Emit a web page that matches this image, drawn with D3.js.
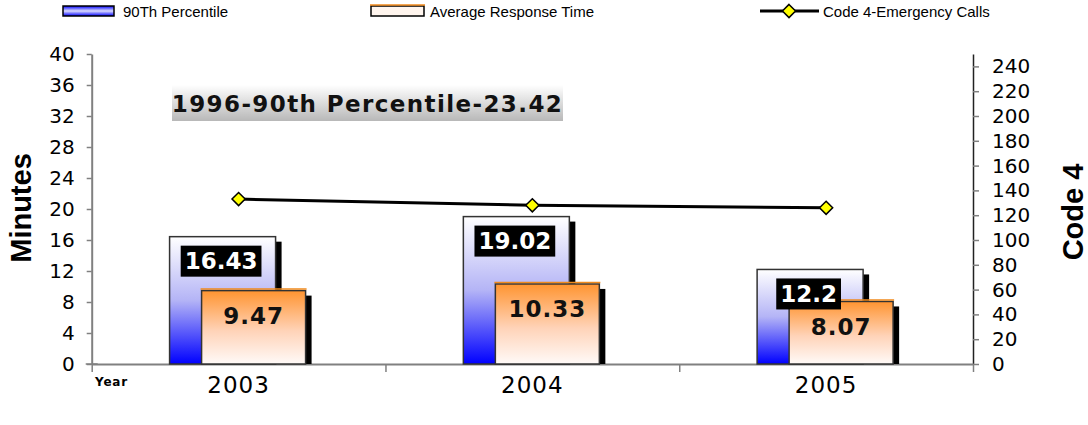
<!DOCTYPE html>
<html>
<head>
<meta charset="utf-8">
<script src="https://cdn.jsdelivr.net/npm/d3@7"></script>
<style>
  body { margin: 0; background: #fff; }
  svg { display: block; }
</style>
</head>
<body>
<div id="chart"></div>
<script>
// data
var years = ['2003', '2004', '2005']
var pct90 = [16.43, 19.02, 12.2]
var avgResp = [9.47, 10.33, 8.07]
var code4 = [133, 128, 126]
var leftTicks = [0, 4, 8, 12, 16, 20, 24, 28, 32, 36, 40]
var rightTicks = [0, 20, 40, 60, 80, 100, 120, 140, 160, 180, 200, 220, 240]
var noteText = '1996-90th Percentile-23.42'

var width = 1088
var height = 425
var plot = { left: 91.7, right: 973, top: 54, bottom: 364 }

var svg = d3.select('#chart').append('svg')
  .attr('width', width)
  .attr('height', height)

var defs = svg.append('defs')

var blueGrad = defs.append('linearGradient').attr('id', 'blueGrad')
  .attr('x1', 0).attr('y1', 0).attr('x2', 0).attr('y2', 1)
blueGrad.append('stop').attr('offset', '0%').attr('stop-color', '#ffffff')
blueGrad.append('stop').attr('offset', '50%').attr('stop-color', '#b4b4f6')
blueGrad.append('stop').attr('offset', '100%').attr('stop-color', '#0000ff')

var orangeGrad = defs.append('linearGradient').attr('id', 'orangeGrad')
  .attr('x1', 0).attr('y1', 0).attr('x2', 0).attr('y2', 1)
orangeGrad.append('stop').attr('offset', '0%').attr('stop-color', '#ff9430')
orangeGrad.append('stop').attr('offset', '55%').attr('stop-color', '#ffd3b8')
orangeGrad.append('stop').attr('offset', '100%').attr('stop-color', '#fffaf8')

var greyGrad = defs.append('linearGradient').attr('id', 'greyGrad')
  .attr('x1', 0).attr('y1', 0).attr('x2', 0).attr('y2', 1)
greyGrad.append('stop').attr('offset', '0%').attr('stop-color', '#ffffff')
greyGrad.append('stop').attr('offset', '100%').attr('stop-color', '#b8b8b8')

var legBlue = defs.append('linearGradient').attr('id', 'legBlue')
  .attr('x1', 0).attr('y1', 0).attr('x2', 0).attr('y2', 1)
legBlue.append('stop').attr('offset', '0%').attr('stop-color', '#0000ff')
legBlue.append('stop').attr('offset', '50%').attr('stop-color', '#ddddff')
legBlue.append('stop').attr('offset', '100%').attr('stop-color', '#0000ff')

// scales
var xScale = d3.scaleBand().domain(years).range([plot.left, plot.right])
var bw = xScale.bandwidth()
var yLeft = d3.scaleLinear().domain([0, 40]).range([plot.bottom, plot.top])
var yRight = d3.scaleLinear().domain([0, 250]).range([plot.bottom, plot.top])
var xEdges = d3.scaleLinear().domain([0, years.length]).range([plot.left, plot.right])

function center(i) { return xScale(years[i]) + bw / 2 }

// axes
var leftAxis = d3.axisLeft(yLeft).tickValues(leftTicks).tickSize(5).tickPadding(12).tickSizeOuter(0)
var gL = svg.append('g').attr('transform', 'translate(' + plot.left + ',0)').call(leftAxis)
gL.select('.domain').attr('stroke', '#808080').attr('stroke-width', 2)
gL.selectAll('.tick line').attr('stroke', '#808080').attr('stroke-width', 1.5)
gL.selectAll('.tick text').attr('font-family', 'DejaVu Sans').attr('font-size', 20).attr('fill', '#000')

var rightAxis = d3.axisRight(yRight).tickValues(rightTicks).tickSize(6).tickPadding(13).tickSizeOuter(0)
var gR = svg.append('g').attr('transform', 'translate(' + plot.right + ',0)').call(rightAxis)
gR.select('.domain').attr('stroke', '#222').attr('stroke-width', 1.5)
gR.selectAll('.tick line').attr('stroke', '#808080').attr('stroke-width', 1.5)
gR.selectAll('.tick text').attr('font-family', 'DejaVu Sans').attr('font-size', 20).attr('fill', '#000')

var bottomAxis = d3.axisBottom(xEdges).tickValues(d3.range(years.length + 1)).tickFormat('').tickSize(8).tickSizeOuter(0)
var gB = svg.append('g').attr('transform', 'translate(0,' + plot.bottom + ')').call(bottomAxis)
gB.select('.domain').attr('stroke', '#808080').attr('stroke-width', 2)
gB.selectAll('.tick line').attr('stroke', '#808080').attr('stroke-width', 1.5)

// left zero tick crossing
svg.append('line')
  .attr('x1', plot.left - 6).attr('x2', plot.left + 6)
  .attr('y1', yLeft(0)).attr('y2', yLeft(0))
  .attr('stroke', '#808080').attr('stroke-width', 1.5)

// category labels
svg.selectAll('.cat').data(years).enter().append('text')
  .attr('class', 'cat')
  .attr('x', d => xScale(d) + bw / 2)
  .attr('y', 393)
  .attr('text-anchor', 'middle')
  .attr('font-family', 'DejaVu Sans')
  .attr('font-size', 23)
  .attr('letter-spacing', 1)
  .text(d => d)

svg.append('text')
  .attr('x', 95).attr('y', 386)
  .attr('font-family', 'DejaVu Sans').attr('font-weight', 'bold')
  .attr('font-size', 12).attr('letter-spacing', 0.8)
  .text('Year')

// axis titles
svg.append('text')
  .attr('transform', 'translate(31,208) rotate(-90)')
  .attr('text-anchor', 'middle')
  .attr('font-family', 'Liberation Sans').attr('font-weight', 'bold')
  .attr('font-size', 29)
  .text('Minutes')

svg.append('text')
  .attr('transform', 'translate(1083,212) rotate(-90)')
  .attr('text-anchor', 'middle')
  .attr('font-family', 'Liberation Sans').attr('font-weight', 'bold')
  .attr('font-size', 29)
  .text('Code 4')

// bars: blue (90th) then orange (average), each with a black drop shadow
var blueOff = -69, blueW = 106
var orOff = -37, orW = 104
var shX = 6, shY = 5

years.forEach(function(y, i) {
  var c = center(i)
  var top = yLeft(pct90[i])
  svg.append('rect')
    .attr('x', c + blueOff + shX).attr('y', top + shY)
    .attr('width', blueW).attr('height', yLeft(0) - top - shY)
    .attr('fill', '#000')
  svg.append('rect')
    .attr('x', c + blueOff).attr('y', top)
    .attr('width', blueW).attr('height', yLeft(0) - top)
    .attr('fill', 'url(#blueGrad)')
    .attr('stroke', '#333').attr('stroke-width', 1.5)
})

years.forEach(function(y, i) {
  var c = center(i)
  var top = yLeft(avgResp[i])
  svg.append('rect')
    .attr('x', c + orOff + shX).attr('y', top + shY)
    .attr('width', orW).attr('height', yLeft(0) - top - shY)
    .attr('fill', '#000')
  svg.append('rect')
    .attr('x', c + orOff).attr('y', top)
    .attr('width', orW).attr('height', yLeft(0) - top)
    .attr('fill', 'url(#orangeGrad)')
    .attr('stroke', '#333').attr('stroke-width', 1.5)
  svg.append('line')
    .attr('x1', c + orOff - 1).attr('x2', c + orOff + orW + 1)
    .attr('y1', top - 1.5).attr('y2', top - 1.5)
    .attr('stroke', '#f08a1c').attr('stroke-width', 1.5)
})

// value labels
years.forEach(function(y, i) {
  var c = center(i)
  var top = yLeft(pct90[i])
  var g = svg.append('g')
  var box = g.append('rect').attr('fill', '#000')
  var t = g.append('text')
    .attr('x', c - 17.5).attr('y', top + 9 + 15.5)
    .attr('dy', '0.36em')
    .attr('text-anchor', 'middle')
    .attr('font-family', 'DejaVu Sans').attr('font-weight', 'bold')
    .attr('font-size', 23).attr('fill', '#fff')
    .text(pct90[i])
  var w = t.node().getComputedTextLength() + 8
  box.attr('x', c - 17.5 - w / 2).attr('y', top + 9).attr('width', w).attr('height', 31)

  var otop = yLeft(avgResp[i])
  svg.append('text')
    .attr('x', c + orOff + orW / 2).attr('y', otop + 25)
    .attr('dy', '0.36em')
    .attr('text-anchor', 'middle')
    .attr('font-family', 'DejaVu Sans').attr('font-weight', 'bold')
    .attr('font-size', 23).attr('letter-spacing', 1).attr('fill', '#111')
    .text(avgResp[i].toFixed(2))
})

// code 4 line
var line = d3.line()
  .x((d, i) => center(i))
  .y(d => yRight(d))
svg.append('path')
  .datum(code4)
  .attr('d', line)
  .attr('fill', 'none')
  .attr('stroke', '#000')
  .attr('stroke-width', 3)

var diamond = d3.symbol().type(d3.symbolDiamond2).size(110)
svg.selectAll('.mk').data(code4).enter().append('path')
  .attr('class', 'mk')
  .attr('transform', (d, i) => 'translate(' + center(i) + ',' + yRight(d) + ')')
  .attr('d', diamond)
  .attr('fill', '#ffff00')
  .attr('stroke', '#000')
  .attr('stroke-width', 1.5)

// note box
svg.append('rect')
  .attr('x', 172).attr('y', 85).attr('width', 391).attr('height', 36)
  .attr('fill', 'url(#greyGrad)')
svg.append('text')
  .attr('x', 367.5).attr('y', 112)
  .attr('text-anchor', 'middle')
  .attr('font-family', 'DejaVu Sans').attr('font-weight', 'bold')
  .attr('font-size', 23).attr('letter-spacing', 1.4)
  .attr('fill', '#111')
  .text(noteText)

// legend
var leg = svg.append('g').attr('font-family', 'Liberation Sans').attr('font-size', 15)
leg.append('rect').attr('x', 63).attr('y', 6).attr('width', 51).attr('height', 10)
  .attr('fill', 'url(#legBlue)').attr('stroke', '#000').attr('stroke-width', 1.5)
leg.append('text').attr('x', 123).attr('y', 17).text('90Th Percentile')

leg.append('rect').attr('x', 371).attr('y', 6).attr('width', 53).attr('height', 10)
  .attr('fill', '#fff5ee').attr('stroke', '#000').attr('stroke-width', 1.5)
leg.append('line').attr('x1', 370).attr('x2', 425).attr('y1', 5).attr('y2', 5)
  .attr('stroke', '#f08a1c').attr('stroke-width', 1.5)
leg.append('text').attr('x', 430).attr('y', 17).text('Average Response Time')

leg.append('line').attr('x1', 760).attr('x2', 819).attr('y1', 11).attr('y2', 11)
  .attr('stroke', '#000').attr('stroke-width', 3)
leg.append('path').attr('transform', 'translate(789,11)').attr('d', diamond)
  .attr('fill', '#ffff00').attr('stroke', '#000').attr('stroke-width', 1.5)
leg.append('text').attr('x', 823).attr('y', 17).text('Code 4-Emergency Calls')
</script>
</body>
</html>
